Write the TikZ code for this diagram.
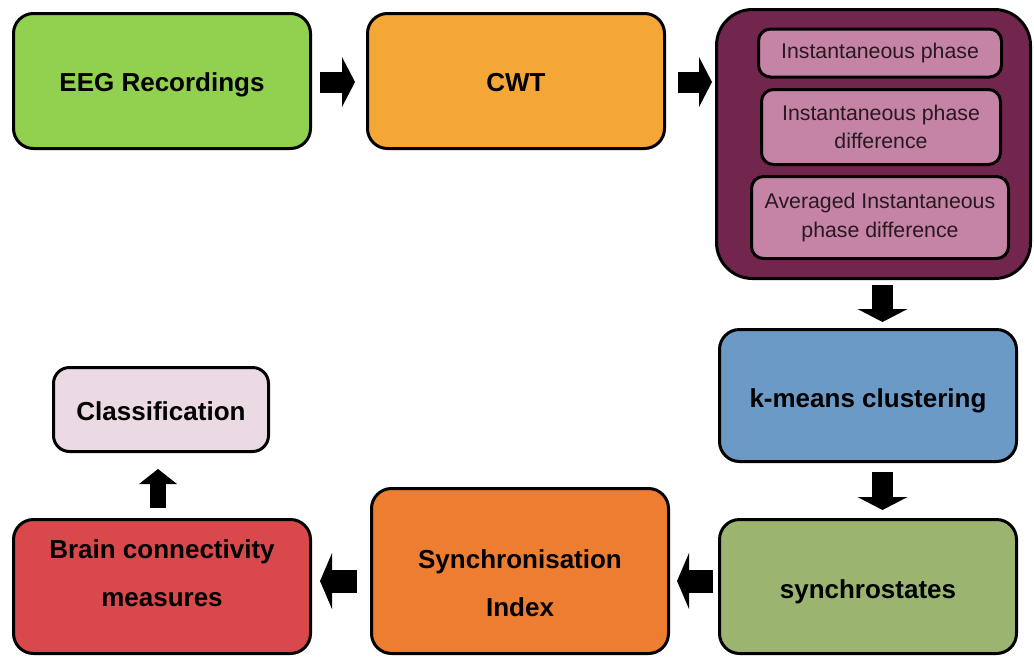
\documentclass[tikz,border=0pt]{standalone}
\usepackage{fontspec}
\setsansfont{Liberation Sans}
\usetikzlibrary{arrows.meta,calc}

\definecolor{cEEG}{RGB}{146,208,80}
\definecolor{cCWT}{RGB}{244,167,55}
\definecolor{cOuter}{RGB}{114,38,78}
\definecolor{cInner}{RGB}{197,131,165}
\definecolor{cKm}{RGB}{108,154,198}
\definecolor{cSyn}{RGB}{155,181,112}
\definecolor{cSI}{RGB}{236,125,49}
\definecolor{cBrain}{RGB}{217,72,74}
\definecolor{cCls}{RGB}{235,217,227}
\definecolor{cInText}{RGB}{40,25,32}

% text block moved vertically by #1 while keeping its natural extent
\newcommand{\lifted}[2]{\raisebox{#1}[\height][\depth]{\begin{tabular}{@{}c@{}}#2\end{tabular}}}

\tikzset{
  stage/.style={draw=black, line width=3pt, rounded corners=20pt,
    align=center, inner sep=0pt,
    font=\sffamily\bfseries\fontsize{26}{48}\selectfont},
  substage/.style={draw=black, line width=3pt, rounded corners=12pt,
    fill=cInner, align=center, inner sep=0pt, text=cInText,
    font=\sffamily\fontsize{21.3}{28.5}\selectfont},
  blockarrow/.style={line width=21pt, draw=black,
    -{Triangle[length=13pt,width=50pt,line width=0pt]}},
  widearrow/.style={line width=23pt, draw=black,
    -{Triangle[length=12pt,width=56pt,line width=0pt]}},
  smallarrow/.style={line width=16pt, draw=black,
    -{Triangle[length=15pt,width=38pt,line width=0pt]}},
}

\begin{document}
\begin{tikzpicture}[x=1pt,y=1pt]
\useasboundingbox (0,0) rectangle (1034,-657);

% top row
\node[stage, fill=cEEG, minimum width=297pt, minimum height=135pt] (eeg) at (162,-81) {\lifted{-1pt}{EEG Recordings}};
\node[stage, fill=cCWT, minimum width=297pt, minimum height=135pt] (cwt) at (516,-81) {\lifted{-1pt}{CWT}};

% phase block with its three parts
\node[draw=black, line width=3pt, rounded corners=36pt, fill=cOuter,
      minimum width=314pt, minimum height=269pt, inner sep=0pt] (phase) at (873.5,-144) {};
\node[substage, minimum width=243pt, minimum height=48pt] (ip) at (880,-53) {Instantaneous phase};
\node[substage, minimum width=239pt, minimum height=75pt] (ipd) at (881,-127) {Instantaneous phase\\difference};
\node[substage, minimum width=257pt, minimum height=82pt] (aipd) at (880,-217.5) {Averaged Instantaneous\\phase difference};

% right column and bottom row
\node[stage, fill=cKm, minimum width=297pt, minimum height=132pt] (km) at (868,-395.5) {\lifted{-2pt}{k-means clustering}};
\node[stage, fill=cSyn, minimum width=297pt, minimum height=134pt] (syn) at (868,-586.5) {\lifted{-2pt}{synchrostates}};
\node[stage, fill=cSI, minimum width=297pt, minimum height=165pt] (si) at (520,-571) {\lifted{-11.5pt}{Synchronisation\\Index}};
\node[stage, fill=cBrain, minimum width=297pt, minimum height=134pt] (brain) at (162,-586.5) {\lifted{14pt}{Brain connectivity\\measures}};
\node[stage, fill=cCls, minimum width=215pt, minimum height=84pt, rounded corners=16pt] (cls) at (161,-409.5) {\lifted{-1pt}{Classification}};

% flow arrows
\draw[blockarrow] ([xshift=8pt,yshift=-1pt]eeg.east) -- ([xshift=-11pt,yshift=-1pt]cwt.west);
\draw[blockarrow] ([xshift=12pt,yshift=-1pt]cwt.east) -- ([xshift=-3pt,yshift=-1pt]phase.west |- cwt.east);
\draw[blockarrow] ([xshift=9pt,yshift=-5pt]phase.south) -- ([xshift=14.5pt,yshift=6pt]km.north);
\draw[blockarrow] ([xshift=14.5pt,yshift=-9pt]km.south) -- ([xshift=14.5pt,yshift=8pt]syn.north);
\draw[widearrow] ([xshift=-5pt,yshift=5.5pt]syn.west) -- ([xshift=7pt,yshift=-10pt]si.east);
\draw[widearrow] ([xshift=-13pt,yshift=-10pt]si.west) -- ([xshift=8pt,yshift=5.5pt]brain.east);
\draw[smallarrow] ([xshift=-4pt,yshift=10pt]brain.north) -- ([xshift=-3pt,yshift=-16pt]cls.south);
\end{tikzpicture}
\end{document}
